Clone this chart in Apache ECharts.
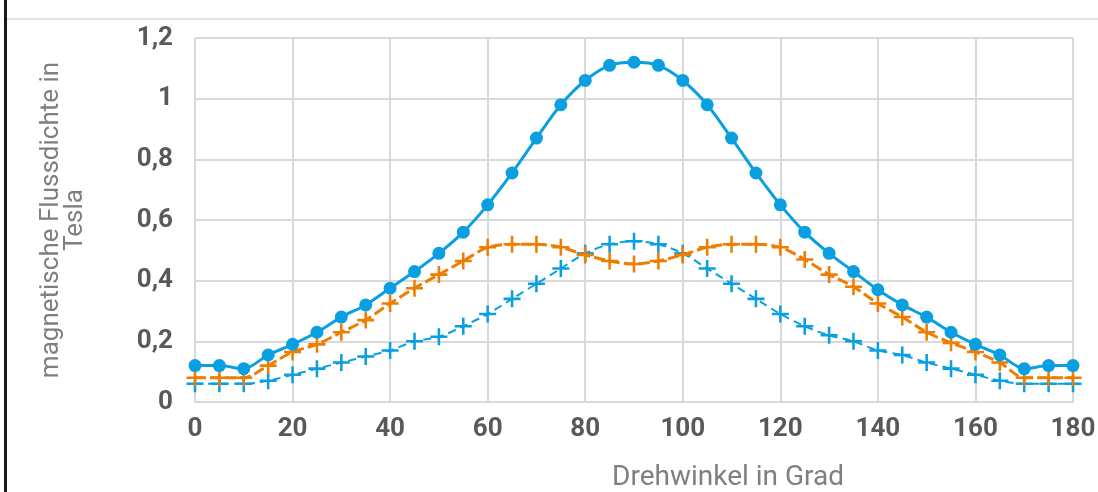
<!DOCTYPE html>
<html>
<head>
<meta charset="utf-8">
<script src="https://cdn.jsdelivr.net/npm/echarts@6/dist/echarts.min.js"></script>
<style>
  html, body { margin: 0; padding: 0; background: #fff; }
  #chart { width: 1098px; height: 492px; }
</style>
</head>
<body>
<div id="chart"></div>
<script>
// Drehwinkel (Grad)
const angles = [0, 5, 10, 15, 20, 25, 30, 35, 40, 45, 50, 55, 60, 65, 70, 75, 80, 85, 90,
  95, 100, 105, 110, 115, 120, 125, 130, 135, 140, 145, 150, 155, 160, 165, 170, 175, 180];

// Messreihen (Tesla)
const seriesSolid = [0.12, 0.12, 0.11, 0.155, 0.19, 0.23, 0.28, 0.32, 0.375, 0.43, 0.49, 0.56, 0.65, 0.755, 0.87, 0.98, 1.06, 1.11, 1.12,
  1.11, 1.06, 0.98, 0.87, 0.755, 0.65, 0.56, 0.49, 0.43, 0.37, 0.32, 0.28, 0.23, 0.19, 0.155, 0.11, 0.12, 0.12];
const seriesOrange = [0.08, 0.08, 0.08, 0.12, 0.165, 0.19, 0.23, 0.27, 0.325, 0.375, 0.42, 0.465, 0.51, 0.52, 0.52, 0.51, 0.485, 0.465, 0.455,
  0.465, 0.485, 0.51, 0.52, 0.52, 0.51, 0.47, 0.42, 0.38, 0.325, 0.28, 0.23, 0.195, 0.165, 0.13, 0.08, 0.08, 0.08];
const seriesBlueDash = [0.06, 0.06, 0.06, 0.07, 0.09, 0.11, 0.13, 0.15, 0.17, 0.2, 0.215, 0.25, 0.29, 0.34, 0.39, 0.44, 0.49, 0.52, 0.53,
  0.52, 0.49, 0.44, 0.39, 0.34, 0.29, 0.25, 0.22, 0.2, 0.17, 0.155, 0.13, 0.11, 0.09, 0.07, 0.06, 0.06, 0.06];

const BLUE = "#0a9fe0";
const ORANGE = "#ef7d00";
// Pluszeichen als gefülltes Symbol
const PLUS = "path://M-1.2,-8L1.2,-8L1.2,-1.2L8,-1.2L8,1.2L1.2,1.2L1.2,8L-1.2,8L-1.2,1.2L-8,1.2L-8,-1.2L-1.2,-1.2Z";

function pairs(values) {
  return angles.map((a, i) => [a, values[i]]);
}

const chart = echarts.init(document.getElementById("chart"));

chart.setOption({
  animation: false,
  grid: { left: 195, right: 25, top: 38, bottom: 90, containLabel: false, outerBoundsMode: "none" },
  graphic: [
    { type: "rect", shape: { x: 4, y: 0, width: 3, height: 492 }, style: { fill: "#1a1a1a" } },
    { type: "rect", shape: { x: 7, y: 18, width: 1091, height: 2 }, style: { fill: "#e2e2e2" } }
  ],
  xAxis: {
    type: "value",
    min: 0,
    max: 180,
    interval: 20,
    name: "Drehwinkel in Grad",
    nameLocation: "middle",
    nameGap: 62,
    nameTextStyle: { color: "#7f7f7f", fontSize: 28, fontFamily: "Roboto", padding: [0, 0, 0, 188] },
    axisLine: { show: true, lineStyle: { color: "#d9d9d9", width: 2 } },
    axisTick: { show: false },
    axisLabel: { color: "#595959", fontSize: 26, fontWeight: "bold", fontFamily: "Roboto", margin: 14 },
    splitLine: { show: true, lineStyle: { color: "#d9d9d9", width: 2 } }
  },
  yAxis: {
    type: "value",
    min: 0,
    max: 1.2,
    interval: 0.2,
    name: "magnetische Flussdichte in\nTesla",
    nameLocation: "middle",
    nameRotate: 90,
    nameGap: 108,
    nameTextStyle: { color: "#7f7f7f", fontSize: 26, fontFamily: "Roboto", lineHeight: 24, align: "center" },
    axisLine: { show: false },
    axisTick: { show: false },
    axisLabel: {
      color: "#595959", fontSize: 26, fontWeight: "bold", fontFamily: "Roboto", margin: 22,
      formatter: v => String(Math.round(v * 10) / 10).replace(".", ",")
    },
    splitLine: { show: true, lineStyle: { color: "#d9d9d9", width: 2 } }
  },
  series: [
    {
      type: "line",
      data: pairs(seriesBlueDash),
      smooth: 0.3,
      symbol: PLUS,
      symbolSize: 17,
      itemStyle: { color: BLUE },
      lineStyle: { color: BLUE, width: 2, type: [8, 5] },
      z: 2
    },
    {
      type: "line",
      data: pairs(seriesOrange),
      smooth: 0.3,
      symbol: PLUS,
      symbolSize: 17,
      itemStyle: { color: ORANGE },
      lineStyle: { color: ORANGE, width: 3, type: [11, 4] },
      z: 3
    },
    {
      type: "line",
      data: pairs(seriesSolid),
      smooth: 0.3,
      symbol: "circle",
      symbolSize: 13,
      itemStyle: { color: BLUE, borderWidth: 0 },
      lineStyle: { color: BLUE, width: 3 },
      z: 4
    }
  ]
});
</script>
</body>
</html>
